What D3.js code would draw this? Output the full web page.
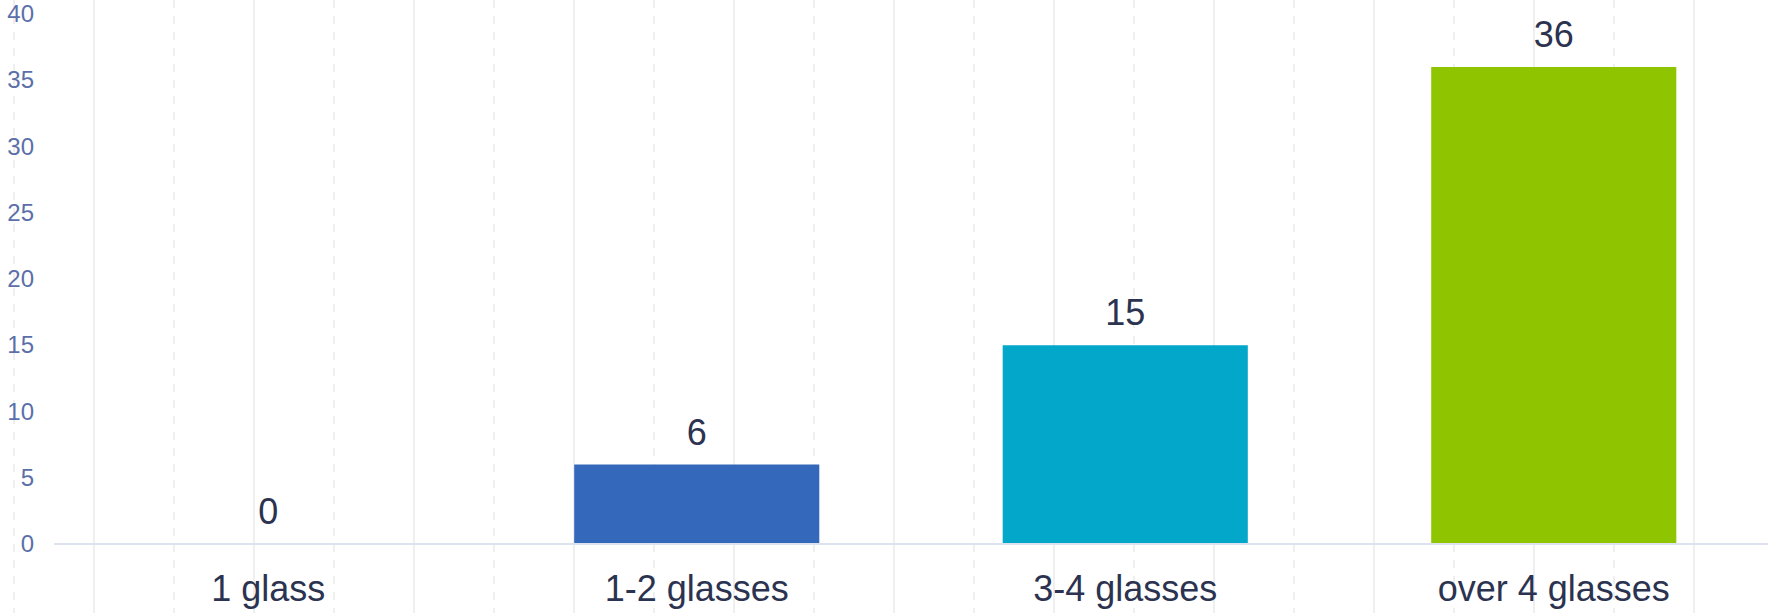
<!DOCTYPE html>
<html>
<head>
<meta charset="utf-8">
<script src="https://cdn.jsdelivr.net/npm/d3@7/dist/d3.min.js"></script>
<style>
  html, body { margin: 0; padding: 0; background: #ffffff; }
  svg { display: block; font-family: "Liberation Sans", Arial, Helvetica, sans-serif; }
</style>
</head>
<body>
<svg id="chart" width="1768" height="613"></svg>
<script>
const categories = ["1 glass", "1-2 glasses", "3-4 glasses", "over 4 glasses"];
const values = [0, 6, 15, 36];
const barColors = ["#3468bb", "#3468bb", "#03a7c9", "#8fc400"];
const yTicks = [0, 5, 10, 15, 20, 25, 30, 35, 40];

const W = 1768, H = 613;
const svg = d3.select("#chart");

// background vertical guide lines
const guides = d3.range(14, W, 80);
svg.append("g").selectAll("line").data(guides).join("line")
  .attr("x1", d => d).attr("x2", d => d)
  .attr("y1", 0).attr("y2", H)
  .attr("stroke", "#efefef")
  .attr("stroke-width", 2)
  .attr("stroke-dasharray", (d, i) => i % 2 === 0 ? "8,8" : null);

const x = d3.scaleBand().domain(categories).range([54, W])
  .paddingInner(0.428).paddingOuter(0.214);
const y = d3.scaleLinear().domain([0, 40]).range([544, 14]);

// y axis labels
const yAxis = d3.axisLeft(y).tickValues(yTicks).tickSize(0).tickPadding(0);
const gy = svg.append("g").attr("transform", "translate(34,0)").call(yAxis);
gy.select(".domain").remove();
gy.selectAll("text")
  .attr("fill", "#5b6fa9")
  .style("font-size", "24px")
  .style("font-family", "\"Liberation Sans\", Arial, sans-serif");

// bars
svg.append("g").selectAll("rect").data(values).join("rect")
  .attr("x", (d, i) => x(categories[i]))
  .attr("width", x.bandwidth())
  .attr("y", d => y(d))
  .attr("height", d => y(0) - y(d))
  .attr("fill", (d, i) => barColors[i]);

// baseline
svg.append("line")
  .attr("x1", 54).attr("x2", W)
  .attr("y1", y(0)).attr("y2", y(0))
  .attr("stroke", "#dde2ee").attr("stroke-width", 2);

// value labels
svg.append("g").selectAll("text").data(values).join("text")
  .attr("x", (d, i) => x(categories[i]) + x.bandwidth() / 2)
  .attr("y", d => y(d) - 20)
  .attr("text-anchor", "middle")
  .attr("fill", "#2b3350")
  .style("font-size", "36px")
  .text(d => d);

// category labels
const xAxis = d3.axisBottom(x).tickSize(0).tickPadding(0);
const gx = svg.append("g").attr("transform", "translate(0,601)").call(xAxis);
gx.select(".domain").remove();
gx.selectAll("text")
  .attr("dy", null)
  .attr("y", 0)
  .attr("fill", "#2b3350")
  .style("font-size", "36px")
  .style("font-family", "\"Liberation Sans\", Arial, sans-serif");
</script>
</body>
</html>
